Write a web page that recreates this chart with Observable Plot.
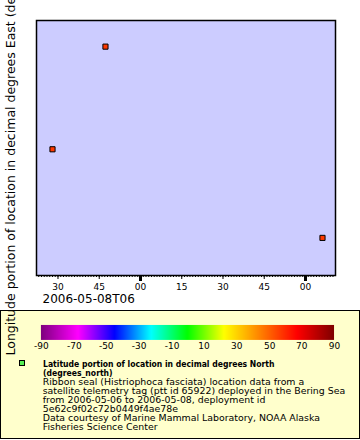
<!DOCTYPE html>
<html>
<head>
<meta charset="utf-8">
<script src="https://cdn.jsdelivr.net/npm/d3@7"></script>
<script src="https://cdn.jsdelivr.net/npm/@observablehq/plot@0.6"></script>
<style>
  html, body { margin: 0; padding: 0; background: #ffffff; }
  #wrap { position: relative; width: 360px; height: 440px; overflow: hidden; font-family: "DejaVu Sans", sans-serif; }
  #chart { position: absolute; left: 0; top: 0; z-index: 2; }
  #chart svg { overflow: visible; }
  #legend { position: absolute; left: 0; top: 310px; width: 358px; height: 127px; border: 1px solid #000; background: #FFFFCC; z-index: 1; }
  #ramp { position: absolute; left: -1px; top: 0; }
  #ramp line { display: none; }
  #marker { position: absolute; left: 18px; top: 49px; width: 4px; height: 4px; border: 1px solid #000; background: #55EE55; }
  #text { position: absolute; left: 41.7px; top: 48px; color: #000; font-size: 9.4px; line-height: 9px; white-space: nowrap; }
  #text .b { font-weight: bold; transform: scaleX(0.82); transform-origin: 0 0; }
</style>
</head>
<body>
<div id="wrap">
  <div id="chart"></div>
  <div id="legend"><div id="ramp"></div><div id="marker"></div><div id="text"></div></div>
</div>
<script>
// ---- data ----
const times = ["2006-05-08T05:28:00Z", "2006-05-08T05:47:16Z", "2006-05-08T07:06:11Z"];
const longitudes = [-172.402, -172.241, -172.541];
const latitudes = [57.6, 57.7, 57.5];

const xDomain = ["2006-05-08T05:22:11Z", "2006-05-08T07:10:55Z"];
const yDomain = [-172.60, -172.20];
const colorDomain = [-90, 90];
const colorTicks = [-90, -70, -50, -30, -10, 10, 30, 50, 70, 90];
const rainbow = ["#800080", "#ff00ff", "#0000ff", "#00ffff", "#00ff00", "#ffff00", "#ff8000", "#ff0000", "#800000"];

const xAxisLabel = "2006-05-08T06";
const yAxisLabel = "Longitude portion of location in decimal degrees East (degrees_east)";
const legendTitle = ["Latitude portion of location in decimal degrees North", "(degrees_north)"];
const legendLines = [
  "Ribbon seal (Histriophoca fasciata) location data from a",
  "satellite telemetry tag (ptt id 65922) deployed in the Bering Sea",
  "from 2006-05-06 to 2006-05-08, deployment id",
  "5e62c9f02c72b0449f4ae78e",
  "Data courtesy of Marine Mammal Laboratory, NOAA Alaska",
  "Fisheries Science Center"
];

// ---- build ----
const data = times.map((t, i) => ({time: new Date(t), lon: longitudes[i], lat: latitudes[i]}));
const x0 = new Date(xDomain[0]), x1 = new Date(xDomain[1]);
const minuteTicks = d3.utcMinute.range(x0, x1);
const quarterTicks = d3.utcMinute.every(15).range(x0, x1);
const hourTicks = d3.utcHour.range(x0, x1);

const colorScale = {type: "linear", domain: colorDomain, interpolate: d3.piecewise(d3.interpolateRgb, rainbow)};

const chart = Plot.plot({
  width: 360,
  height: 310,
  marginLeft: 36,
  marginRight: 25,
  marginTop: 20,
  marginBottom: 35,
  style: {fontFamily: "DejaVu Sans", fontSize: "9px", overflow: "visible", background: "transparent", color: "black"},
  x: {type: "utc", domain: [x0, x1]},
  y: {domain: yDomain, axis: null},
  color: colorScale,
  marks: [
    Plot.frame({fill: "#CCCCFF", stroke: "none"}),
    Plot.axisX({ticks: minuteTicks, tickSize: 2, tickFormat: () => "", label: null}),
    Plot.axisX({ticks: quarterTicks, tickSize: 4, tickPadding: 4, tickFormat: d3.utcFormat("%M"), label: null}),
    Plot.axisX({ticks: hourTicks, tickSize: 6, strokeWidth: 3, tickFormat: () => "", label: null}),
    Plot.frame({stroke: "black", strokeWidth: 1.5}),
    Plot.dot(data, {x: "time", y: "lon", fill: "lat", symbol: "square", r: 2.9, stroke: "black", strokeWidth: 1}),
    Plot.text([xAxisLabel], {frameAnchor: "bottom-left", textAnchor: "start", dx: 6, dy: 27, fontSize: 12}),
    Plot.text([yAxisLabel], {frameAnchor: "bottom-left", rotate: -90, textAnchor: "start", dx: -21.5, dy: 80, fontSize: 12.5})
  ]
});
document.getElementById("chart").appendChild(chart);

const ramp = Plot.legend({
  color: colorScale,
  width: 360,
  height: 46,
  marginTop: 14,
  marginBottom: 17,
  marginLeft: 41,
  marginRight: 25,
  ticks: colorTicks,
  tickSize: 0,
  tickFormat: d => String(d),
  style: {fontFamily: "DejaVu Sans", fontSize: "9px", color: "black", background: "transparent"}
});
document.getElementById("ramp").appendChild(ramp);

const textDiv = document.getElementById("text");
legendTitle.forEach(s => { const d = document.createElement("div"); d.className = "b"; d.textContent = s; textDiv.appendChild(d); });
legendLines.forEach(s => { const d = document.createElement("div"); d.textContent = s; textDiv.appendChild(d); });
</script>
</body>
</html>
